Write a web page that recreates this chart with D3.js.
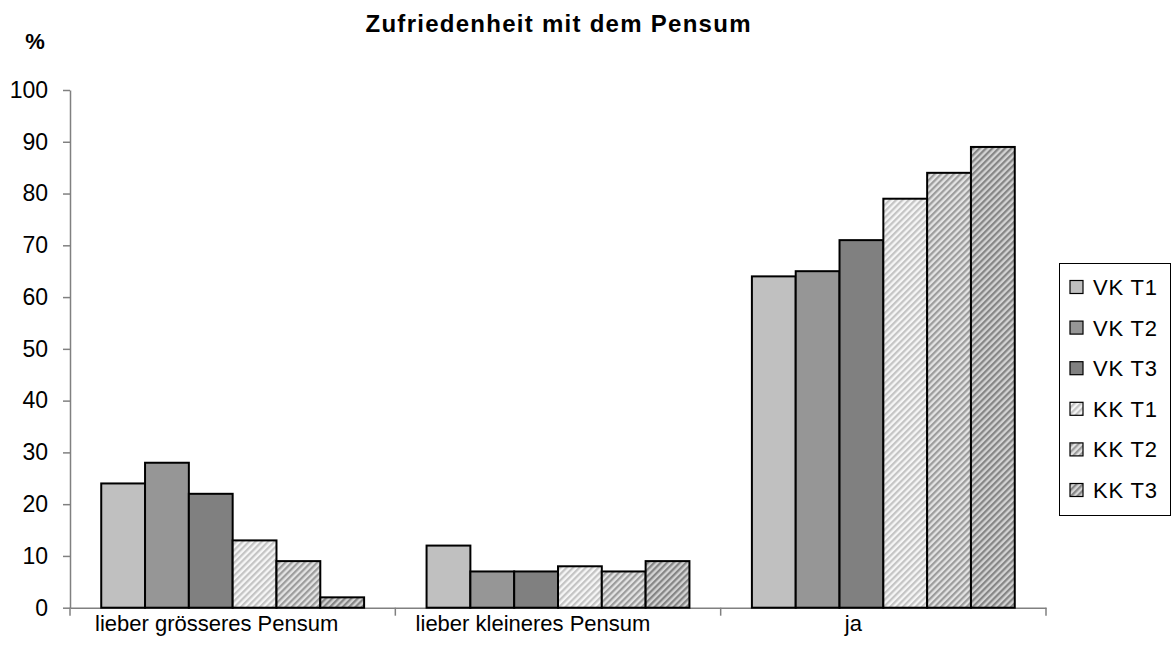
<!DOCTYPE html>
<html>
<head>
<meta charset="utf-8">
<script src="https://cdn.jsdelivr.net/npm/d3@7"></script>
<style>
  html, body { margin: 0; padding: 0; background: #fff; }
  svg { display: block; font-family: "Liberation Sans", Arial, sans-serif; }
</style>
</head>
<body>
<svg id="chart" width="1172" height="659"></svg>
<script>
const categories = ["lieber grösseres Pensum", "lieber kleineres Pensum", "ja"];
const seriesNames = ["VK T1", "VK T2", "VK T3", "KK T1", "KK T2", "KK T3"];
const vkT1 = [24, 12, 64];
const vkT2 = [28, 7, 65];
const vkT3 = [22, 7, 71];
const kkT1 = [13, 8, 79];
const kkT2 = [9, 7, 84];
const kkT3 = [2, 9, 89];
const yTicks = [0, 10, 20, 30, 40, 50, 60, 70, 80, 90, 100];
const title = "Zufriedenheit mit dem Pensum";
const yUnit = "%";

const seriesValues = [vkT1, vkT2, vkT3, kkT1, kkT2, kkT3];
const FONT = "Liberation Sans, Arial, sans-serif";

const svg = d3.select("#chart");
const defs = svg.append("defs");

const fills = [
  {type: "solid", color: "#c0c0c0"},
  {type: "solid", color: "#969696"},
  {type: "solid", color: "#808080"},
  {type: "hatch", bg: "#f6f6f6", fg: "#c4c4c4", id: "h1"},
  {type: "hatch", bg: "#e4e4e4", fg: "#9c9c9c", id: "h2"},
  {type: "hatch", bg: "#d4d4d4", fg: "#858585", id: "h3"}
];
fills.forEach(f => {
  if (f.type === "hatch") {
    const p = defs.append("pattern")
      .attr("id", f.id).attr("patternUnits", "userSpaceOnUse")
      .attr("width", 4.5).attr("height", 4.5)
      .attr("patternTransform", "rotate(45)");
    p.append("rect").attr("width", 4.5).attr("height", 4.5).attr("fill", f.bg);
    p.append("rect").attr("x", 0).attr("width", 2.2).attr("height", 4.5).attr("fill", f.fg);
  }
});
const fillOf = i => fills[i].type === "solid" ? fills[i].color : `url(#${fills[i].id})`;

const mLeft = 70, mRight = 1046, mTop = 90, mBottom = 607.7;

const x0 = d3.scaleBand().domain(categories).range([mLeft, mRight]).paddingInner(0).paddingOuter(0);
const groupW = x0.bandwidth() * 0.808;
const x1 = d3.scaleBand().domain(seriesNames).range([0, groupW]).padding(0);
const y = d3.scaleLinear().domain([0, 100]).range([mBottom, mTop]);

// y axis
const yAxis = svg.append("g").attr("transform", `translate(${mLeft},0)`)
  .call(d3.axisLeft(y).tickValues(yTicks).tickSize(7).tickPadding(15).tickSizeOuter(0));
yAxis.select(".domain").attr("stroke", "#808080").attr("stroke-width", 1.5);
yAxis.selectAll(".tick line").attr("stroke", "#808080").attr("stroke-width", 1.5);
yAxis.selectAll(".tick text").attr("font-size", 23).attr("fill", "#000")
  .attr("font-family", FONT);

// x axis
const labelShift = [-16, -25, -30];
const xAxis = svg.append("g").attr("transform", `translate(0,${mBottom})`)
  .call(d3.axisBottom(x0).tickSize(0).tickPadding(8));
xAxis.select(".domain").attr("stroke", "#808080").attr("stroke-width", 1.5);
xAxis.selectAll(".tick text").attr("font-size", 22).attr("fill", "#000")
  .attr("font-family", FONT)
  .attr("dx", (d, i) => labelShift[i]);
const bounds = categories.map(c => x0(c)).concat([mRight]);
svg.append("g").selectAll("line").data(bounds).join("line")
  .attr("x1", d => d).attr("x2", d => d)
  .attr("y1", mBottom).attr("y2", mBottom + 8)
  .attr("stroke", "#808080").attr("stroke-width", 1.5);

// bars
seriesNames.forEach((s, si) => {
  svg.append("g").selectAll("rect")
    .data(categories.map((c, ci) => ({c, v: seriesValues[si][ci]})))
    .join("rect")
    .attr("x", d => x0(d.c) + (x0.bandwidth() - groupW) / 2 + x1(s))
    .attr("y", d => y(d.v))
    .attr("width", x1.bandwidth())
    .attr("height", d => y(0) - y(d.v))
    .attr("fill", fillOf(si))
    .attr("stroke", "#000")
    .attr("stroke-width", 2);
});

// title
svg.append("text").attr("x", 558).attr("y", 32).attr("text-anchor", "middle")
  .attr("font-size", 24).attr("font-weight", "bold")
  .attr("textLength", 385).attr("lengthAdjust", "spacing").text(title);
svg.append("text").attr("x", 35).attr("y", 49).attr("text-anchor", "middle")
  .attr("font-size", 22).attr("font-weight", "bold").text(yUnit);

// legend
const lg = svg.append("g");
lg.append("rect").attr("x", 1059.5).attr("y", 263.5).attr("width", 111).attr("height", 252)
  .attr("fill", "#fff").attr("stroke", "#000").attr("stroke-width", 1);
seriesNames.forEach((s, i) => {
  const cy = 287 + i * 40.6;
  lg.append("rect").attr("x", 1070).attr("y", cy - 6.5).attr("width", 13).attr("height", 13)
    .attr("fill", fillOf(i)).attr("stroke", "#000").attr("stroke-width", 1.2);
  lg.append("text").attr("x", 1093).attr("y", cy + 8).attr("font-size", 22)
    .attr("textLength", 64).attr("lengthAdjust", "spacing").text(s);
});
</script>
</body>
</html>
